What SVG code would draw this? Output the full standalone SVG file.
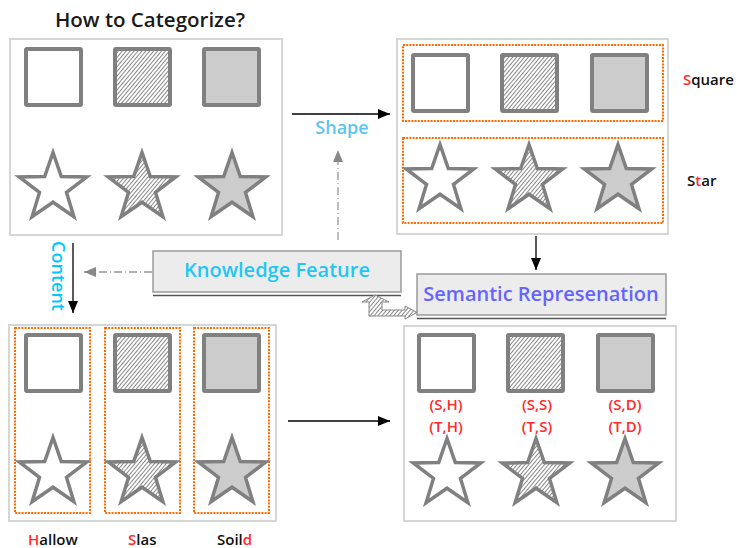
<svg xmlns="http://www.w3.org/2000/svg" width="737" height="548" viewBox="0 0 737 548">
<style>
  text { font-family: "Open Sans", "Liberation Sans", sans-serif; font-weight: 600; }
  .panel { fill: #ffffff; stroke: #d6d6d6; stroke-width: 2; }
  .sq { stroke: #808080; stroke-width: 4; }
  .st { stroke: #808080; stroke-width: 3.5; stroke-linejoin: miter; }
  .hollow { fill: #ffffff; }
  .slash { fill: url(#hatch); }
  .solid { fill: #cccccc; }
  .dot { fill: none; stroke: #ff6a00; stroke-width: 2; stroke-dasharray: 2 1.2; }
  .kbox { fill: #ececec; stroke: #9a9a9a; stroke-width: 1.5; }
  .conn { fill: none; stroke: #000000; stroke-width: 1.3; }
  .dconn { fill: none; stroke: #999999; stroke-width: 1.3; stroke-dasharray: 8 3 1 3; }
  .red { fill: #ff2a2a; }
  .lbl { font-size: 15px; fill: #111111; }
  .pair { font-size: 15px; fill: #ff2a2a; text-anchor: middle; }
</style>
<defs>
  <pattern id="hatch" patternUnits="userSpaceOnUse" width="3" height="3" patternTransform="rotate(40)">
    <rect width="3" height="3" fill="#ffffff"/>
    <line x1="0.5" y1="0" x2="0.5" y2="3" stroke="#7a7a7a" stroke-width="0.9"/>
  </pattern>
  <path id="star" d="M0,-35.5 L8.3,-11.4 L33.8,-11 L13.5,4.4 L20.9,28.7 L0,14.2 L-20.9,28.7 L-13.5,4.4 L-33.8,-11 L-8.3,-11.4 Z"/>
  <marker id="ab" viewBox="0 0 12 10" refX="12" refY="5" markerWidth="12" markerHeight="10" markerUnits="userSpaceOnUse" orient="auto">
    <path d="M0,0 L12,5 L0,10 Z" fill="#000000"/>
  </marker>
  <marker id="ag" viewBox="0 0 12 10" refX="12" refY="5" markerWidth="12" markerHeight="10" markerUnits="userSpaceOnUse" orient="auto">
    <path d="M0,0 L12,5 L0,10 Z" fill="#888888"/>
  </marker>
</defs>

<text x="150" y="27" font-size="20.5" text-anchor="middle" fill="#1a1a1a">How to Categorize?</text>

<g id="panel-input">
  <rect class="panel" x="10" y="39" width="272" height="196"/>
  <rect class="sq hollow" x="26" y="49" width="55" height="56" rx="1"/>
  <rect class="sq slash" x="115" y="49" width="55" height="56" rx="1"/>
  <rect class="sq solid" x="204" y="49" width="55" height="56" rx="1"/>
  <use href="#star" class="st hollow" x="53" y="188"/>
  <use href="#star" class="st slash" x="142" y="188"/>
  <use href="#star" class="st solid" x="232" y="188"/>
</g>

<g id="panel-shape">
  <rect class="panel" x="397" y="39" width="271" height="195"/>
  <rect class="dot" x="403" y="45" width="260" height="76"/>
  <rect class="dot" x="403" y="138" width="260" height="85"/>
  <rect class="sq hollow" x="413" y="55" width="55" height="56" rx="1"/>
  <rect class="sq slash" x="502" y="55" width="55" height="56" rx="1"/>
  <rect class="sq solid" x="592" y="55" width="55" height="56" rx="1"/>
  <use href="#star" class="st hollow" x="440" y="180"/>
  <use href="#star" class="st slash" x="529" y="180"/>
  <use href="#star" class="st solid" x="618" y="180"/>
  <text x="683" y="85" class="lbl"><tspan class="red">S</tspan>quare</text>
  <text x="687" y="186" class="lbl">S<tspan class="red">t</tspan>ar</text>
</g>

<g id="panel-content">
  <rect class="panel" x="9" y="325" width="267" height="196"/>
  <rect class="dot" x="15" y="328" width="75" height="185"/>
  <rect class="dot" x="105" y="328" width="75" height="185"/>
  <rect class="dot" x="194" y="328" width="75" height="185"/>
  <rect class="sq hollow" x="26" y="335" width="55" height="56" rx="1"/>
  <rect class="sq slash" x="115" y="335" width="55" height="56" rx="1"/>
  <rect class="sq solid" x="204" y="335" width="55" height="56" rx="1"/>
  <use href="#star" class="st hollow" x="53" y="473"/>
  <use href="#star" class="st slash" x="142" y="473"/>
  <use href="#star" class="st solid" x="232" y="473"/>
  <text x="28" y="545" class="lbl"><tspan class="red">H</tspan>allow</text>
  <text x="128" y="545" class="lbl"><tspan class="red">S</tspan>las</text>
  <text x="217" y="545" class="lbl">Soil<tspan class="red">d</tspan></text>
</g>

<g id="panel-semantic">
  <rect class="panel" x="404" y="326" width="272" height="195"/>
  <rect class="sq hollow" x="419" y="335" width="55" height="56" rx="1"/>
  <rect class="sq slash" x="508" y="335" width="55" height="56" rx="1"/>
  <rect class="sq solid" x="598" y="335" width="55" height="56" rx="1"/>
  <text x="446" y="410" class="pair">(S,H)</text>
  <text x="446" y="432" class="pair">(T,H)</text>
  <text x="537" y="410" class="pair">(S,S)</text>
  <text x="537" y="432" class="pair">(T,S)</text>
  <text x="625" y="410" class="pair">(S,D)</text>
  <text x="625" y="432" class="pair">(T,D)</text>
  <use href="#star" class="st hollow" x="447" y="474"/>
  <use href="#star" class="st slash" x="536" y="474"/>
  <use href="#star" class="st solid" x="625" y="474"/>
</g>

<g id="knowledge-feature">
  <rect class="kbox" x="153" y="251" width="248" height="41"/>
  <line x1="153" y1="295.5" x2="401" y2="295.5" stroke="#555555" stroke-width="1.5"/>
  <text x="277" y="277" font-size="20" text-anchor="middle" fill="#1ec8f2">Knowledge Feature</text>
</g>

<g id="semantic-representation">
  <rect class="kbox" x="417" y="274" width="249" height="41"/>
  <line x1="417" y1="318.5" x2="666" y2="318.5" stroke="#555555" stroke-width="1.5"/>
  <text x="541" y="301" font-size="20" text-anchor="middle" fill="#6464ff">Semantic Represenation</text>
</g>

<g id="connectors">
  <line class="conn" x1="292" y1="114" x2="390" y2="114" marker-end="url(#ab)"/>
  <text x="342" y="134" font-size="18" text-anchor="middle" fill="#5cc4f5">Shape</text>
  <line class="dconn" x1="338" y1="240" x2="338" y2="150" marker-end="url(#ag)"/>
  <line class="dconn" x1="152" y1="272" x2="84" y2="272" marker-end="url(#ag)"/>
  <line class="conn" x1="73" y1="243" x2="73" y2="313" marker-end="url(#ab)"/>
  <text x="52" y="276" font-size="18" text-anchor="middle" fill="#00c8ff" transform="rotate(90 52 276)">Content</text>
  <line class="conn" x1="536" y1="236" x2="536" y2="270" marker-end="url(#ab)"/>
  <line class="conn" x1="288" y1="421" x2="390" y2="421" marker-end="url(#ab)"/>
  <path d="M375,295 L389,302 L382,302 L382,310 L405,310 L405,306 L417,312.5 L405,319 L405,316 L369,316 L369,302 L362,302 Z" fill="url(#hatch)" stroke="#888888" stroke-width="1"/>
</g>
</svg>
